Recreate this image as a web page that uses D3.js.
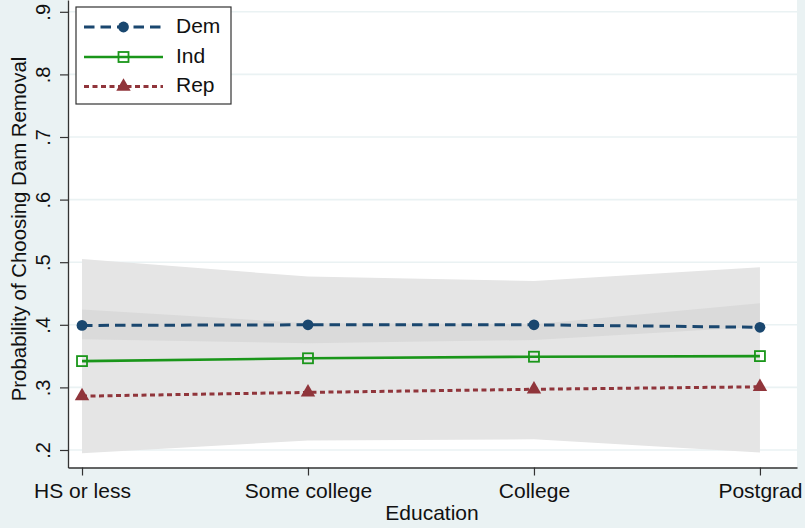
<!DOCTYPE html>
<html>
<head>
<meta charset="utf-8">
<script src="https://cdn.jsdelivr.net/npm/d3@7"></script>
<style>
  html, body { margin: 0; padding: 0; background: #eaf2f3; }
  svg { display: block; font-family: "Liberation Sans", Arial, sans-serif; }
</style>
</head>
<body>
<svg id="chart" width="805" height="528"></svg>
<script>
// Education levels on the x axis
const categories = ["HS or less", "Some college", "College", "Postgrad"];

// Predicted probability of choosing dam removal, by party
const dem = [0.399, 0.400, 0.400, 0.396];
const ind = [0.342, 0.3465, 0.349, 0.350];
const rep = [0.286, 0.292, 0.297, 0.301];

// Outer confidence envelope
const bandLo = [0.195, 0.215, 0.217, 0.196];
const bandHi = [0.505, 0.477, 0.470, 0.492];
// Darker overlapping interval around the Dem estimates
const innerLo = [0.377, 0.3705, 0.3757, 0.397];
const innerHi = [0.4246, 0.4024, 0.401, 0.4343];

const yTicks = [0.2, 0.3, 0.4, 0.5, 0.6, 0.7, 0.8, 0.9];

const svg = d3.select("#chart");
const plot = { left: 68, right: 797, top: 0, bottom: 467.5 };

const x = d3.scaleLinear().domain([0.938, 4.164]).range([plot.left, plot.right]);
const y = d3.scaleLinear().domain([0.17204, 0.91885]).range([plot.bottom, plot.top]);
const xi = i => x(i + 1);

// plot region
svg.append("rect")
  .attr("x", plot.left).attr("y", plot.top)
  .attr("width", plot.right - plot.left).attr("height", plot.bottom - plot.top)
  .attr("fill", "#ffffff");

// gridlines
svg.append("g").selectAll("line").data(yTicks).join("line")
  .attr("x1", plot.left).attr("x2", plot.right)
  .attr("y1", d => y(d)).attr("y2", d => y(d))
  .attr("stroke", "#eaf2f3").attr("stroke-width", 1.6);

// confidence bands
const area = (lo, hi) => d3.area()
  .x((d, i) => xi(i))
  .y0((d, i) => y(lo[i]))
  .y1((d, i) => y(hi[i]))(categories);

svg.append("path").attr("d", area(bandLo, bandHi)).attr("fill", "#e5e5e5");
svg.append("path").attr("d", area(innerLo, innerHi)).attr("fill", "#dadada");

// series definitions
const series = [
  { name: "Dem", values: dem, color: "#1a476f", dash: "10.5,6", width: 3, marker: "circle" },
  { name: "Ind", values: ind, color: "#1a961a", dash: null, width: 2.6, marker: "square" },
  { name: "Rep", values: rep, color: "#90353b", dash: "5,3.5", width: 3, marker: "triangle" }
];

const line = d3.line().x((d, i) => xi(i)).y(d => y(d));

function drawMarker(g, type, cx, cy, color) {
  if (type === "circle") {
    g.append("circle").attr("cx", cx).attr("cy", cy).attr("r", 5.4).attr("fill", color);
  } else if (type === "square") {
    g.append("rect").attr("x", cx - 5).attr("y", cy - 5).attr("width", 10).attr("height", 10)
      .attr("fill", "none").attr("stroke", color).attr("stroke-width", 1.8);
  } else {
    const s = d3.symbol().type(d3.symbolTriangle).size(90);
    g.append("path").attr("d", s()).attr("transform", `translate(${cx},${cy})`).attr("fill", color);
  }
}

series.forEach(s => {
  const g = svg.append("g");
  g.append("path").attr("d", line(s.values))
    .attr("fill", "none").attr("stroke", s.color).attr("stroke-width", s.width)
    .attr("stroke-dasharray", s.dash);
  s.values.forEach((v, i) => drawMarker(g, s.marker, xi(i), y(v), s.color));
});

// y axis
const yAxis = svg.append("g").attr("transform", `translate(${plot.left},0)`)
  .call(d3.axisLeft(y).tickValues(yTicks).tickSize(8).tickSizeOuter(0)
    .tickFormat(d => d3.format(".1f")(d).replace(/^0/, "")));
yAxis.select(".domain").attr("stroke", "#333").attr("stroke-width", 1.3);
yAxis.selectAll(".tick line").attr("stroke", "#333").attr("stroke-width", 1.2);
yAxis.selectAll(".tick text")
  .attr("font-size", 20).attr("fill", "#111")
  .attr("text-anchor", "middle").attr("dy", null)
  .attr("x", null)
  .attr("transform", "translate(-23,0) rotate(-90)")
  .attr("dominant-baseline", "middle");

// x axis
const xAxis = svg.append("g").attr("transform", `translate(0,${plot.bottom})`)
  .call(d3.axisBottom(x).tickValues([1, 2, 3, 4]).tickSize(8).tickSizeOuter(0)
    .tickFormat(d => categories[d - 1]));
xAxis.select(".domain").attr("stroke", "#333").attr("stroke-width", 1.3);
xAxis.selectAll(".tick line").attr("stroke", "#333").attr("stroke-width", 1.2);
xAxis.selectAll(".tick text")
  .attr("font-size", 21).attr("fill", "#111")
  .attr("y", 25).attr("dy", null).attr("dominant-baseline", "middle");

// axis titles
svg.append("text")
  .attr("x", 432).attr("y", 514)
  .attr("text-anchor", "middle").attr("dominant-baseline", "middle")
  .attr("font-size", 21).attr("fill", "#111")
  .text("Education");

svg.append("text")
  .attr("transform", "translate(21,229) rotate(-90)")
  .attr("text-anchor", "middle").attr("dominant-baseline", "middle")
  .attr("font-size", 20.4).attr("fill", "#111")
  .text("Probability of Choosing Dam Removal");

// legend
const lg = svg.append("g");
lg.append("rect").attr("x", 76).attr("y", 7).attr("width", 155).attr("height", 97)
  .attr("fill", "#ffffff").attr("stroke", "#333").attr("stroke-width", 1.2);
const legendY = [27, 57, 86.5];
series.forEach((s, i) => {
  const ly = legendY[i];
  lg.append("line").attr("x1", 84).attr("x2", 163).attr("y1", ly).attr("y2", ly)
    .attr("stroke", s.color).attr("stroke-width", s.width).attr("stroke-dasharray", s.dash);
  drawMarker(lg, s.marker, 123.5, ly, s.color);
  lg.append("text").attr("x", 176).attr("y", ly)
    .attr("dominant-baseline", "middle").attr("font-size", 21).attr("fill", "#111")
    .text(s.name);
});
</script>
</body>
</html>
